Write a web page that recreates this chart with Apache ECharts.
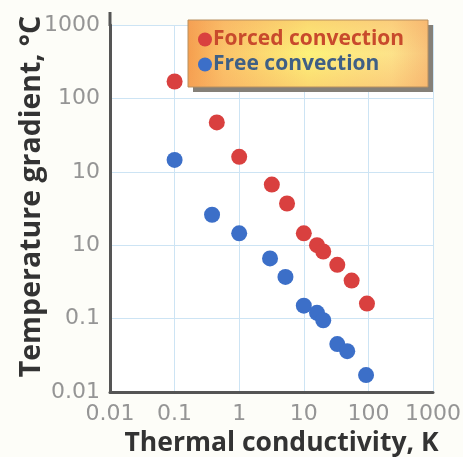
<!DOCTYPE html>
<html><head><meta charset="utf-8">
<script src="https://cdn.jsdelivr.net/npm/echarts@6/dist/echarts.min.js"></script>
<style>html,body{margin:0;padding:0;background:#fdfdf8}#c{width:463px;height:457px}</style>
</head><body><div id="c"></div>
<script>
const seriesNames = ['Forced convection', 'Free convection'];
const forcedK = [0.1, 0.45, 1, 3.2, 5.5, 10, 16, 20, 33, 55, 95];
const forcedT = [170, 47, 16, 6.7, 3.7, 1.45, 1.0, 0.82, 0.54, 0.33, 0.16];
const freeK = [0.1, 0.38, 1, 3, 5.2, 10, 16, 20, 33, 47, 92];
const freeT = [14.5, 2.6, 1.45, 0.66, 0.37, 0.15, 0.12, 0.095, 0.045, 0.036, 0.017];
const xTickLabels = ['0.01', '0.1', '1', '10', '100', '1000'];
const yTickLabels = ['0.01', '0.1', '10', '10', '100', '1000'];
const xTitle = 'Thermal conductivity, K';
const yTitle = 'Temperature gradient, °C';

const chart = echarts.init(document.getElementById('c'));
const labelIdx = v => Math.round(Math.log10(v)) + 2;
chart.setOption({
  backgroundColor: '#fdfdf8',
  animation: false,
  grid: { left: 110, right: 30, top: 25, bottom: 65, backgroundColor: '#ffffff', show: true, borderWidth: 0,
          containLabel: false, outerBoundsMode: 'none' },
  xAxis: {
    type: 'log', logBase: 10, min: 0.01, max: 1000,
    name: xTitle, nameLocation: 'middle', nameGap: 38, nameMoveOverlap: false,
    nameTextStyle: { fontFamily: 'Open Sans', fontWeight: 'bold', fontSize: 26.5, color: '#333333', padding: [0, 0, 0, 20] },
    axisLine: { lineStyle: { color: '#555555', width: 3 } },
    axisTick: { show: false },
    splitLine: { show: true, lineStyle: { color: '#cde4f4', width: 1 } },
    axisLabel: { formatter: v => xTickLabels[labelIdx(v)], fontFamily: 'DejaVu Sans', fontSize: 22, color: '#959595', margin: 11 }
  },
  yAxis: {
    type: 'log', logBase: 10, min: 0.01, max: 1000,
    name: yTitle, nameLocation: 'middle', nameGap: 64, nameMoveOverlap: false,
    nameTextStyle: { fontFamily: 'Open Sans', fontWeight: 'bold', fontSize: 28.5, color: '#333333', padding: [0, 0, 0, 24] },
    axisLine: { lineStyle: { color: '#555555', width: 3 } },
    axisTick: { show: false },
    splitLine: { show: true, lineStyle: { color: '#cde4f4', width: 1 } },
    axisLabel: { formatter: v => yTickLabels[labelIdx(v)], fontFamily: 'DejaVu Sans', fontSize: 22, color: '#959595', margin: 10 }
  },
  graphic: [
    { type: 'line', z: 9, shape: { x1: 110, y1: 12, x2: 110, y2: 26 }, style: { stroke: '#555555', lineWidth: 3 } },
    { type: 'rect', z: 10, shape: { x: 193, y: 25, width: 240, height: 67 }, style: { fill: '#858078' } },
    { type: 'rect', z: 11, shape: { x: 188, y: 20, width: 240, height: 67 },
      style: { fill: { type: 'linear', x: 0, y: 0, x2: 1, y2: 0,
        colorStops: [{ offset: 0, color: '#f59e4e' }, { offset: 0.15, color: '#fbc46a' }, { offset: 0.5, color: '#fdf27a' },
                     { offset: 0.85, color: '#fde28a' }, { offset: 1, color: '#f8c27a' }] } } },
    { type: 'rect', z: 12, shape: { x: 188, y: 20, width: 240, height: 67 },
      style: { fill: { type: 'linear', x: 0, y: 0, x2: 0, y2: 1,
        colorStops: [{ offset: 0, color: 'rgba(246,165,95,0.35)' }, { offset: 0.5, color: 'rgba(246,165,95,0)' }, { offset: 1, color: 'rgba(246,165,95,0.35)' }] },
        stroke: '#b89060', lineWidth: 1 } }
  ],
  legend: {
    z: 20, left: 193, top: 24, orient: 'vertical', itemGap: 4,
    itemWidth: 14, itemHeight: 14, icon: 'circle',
    textStyle: { fontFamily: 'Open Sans', fontWeight: 'bold', fontSize: 21, padding: [0, 0, 0, -4] },
    data: [
      { name: seriesNames[0], textStyle: { color: '#c84a2c' } },
      { name: seriesNames[1], textStyle: { color: '#3f5f85' } }
    ]
  },
  series: [
    { name: seriesNames[0], type: 'scatter', symbolSize: 16, itemStyle: { color: '#d9403f', opacity: 1 },
      data: forcedK.map((k, i) => [k, forcedT[i]]) },
    { name: seriesNames[1], type: 'scatter', symbolSize: 16, itemStyle: { color: '#3c6fc8', opacity: 1 },
      data: freeK.map((k, i) => [k, freeT[i]]) }
  ]
});
</script></body></html>
